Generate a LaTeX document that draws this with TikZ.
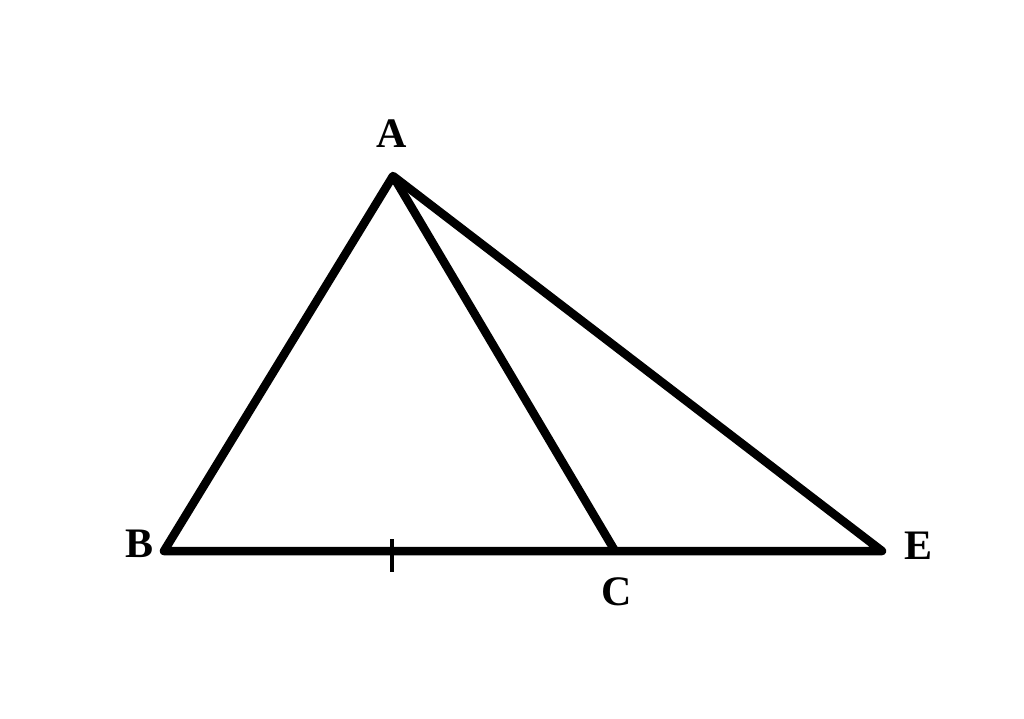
\documentclass[tikz,border=0pt]{standalone}
\usepackage{fontspec}
\setmainfont{Liberation Serif}
\begin{document}
\begin{tikzpicture}[x=1pt,y=-1pt,
  seg/.style={line width=8.5pt,line join=round},
  lbl/.style={font=\fontsize{42}{42}\selectfont\bfseries,inner sep=0pt}]
\useasboundingbox (0,0) rectangle (1024,718);
\fill[white] (0,0) rectangle (1024,718);
\coordinate (A) at (393,176);
\coordinate (B) at (164,551);
\coordinate (C) at (615,551);
\coordinate (E) at (882,551);
\coordinate (T1) at (392,539);
\coordinate (T2) at (392,572);
\draw[seg] (B) -- (A) -- (E) -- cycle;
\draw[seg] (A) -- (C);
\draw[line width=3.5pt] (T1) -- (T2);
\node[lbl] (lA) at (392,134) {A};
\node[lbl] (lB) at (140,544) {B};
\node[lbl] (lC) at (617,592) {C};
\node[lbl] (lE) at (918,546) {E};
\end{tikzpicture}
\end{document}
